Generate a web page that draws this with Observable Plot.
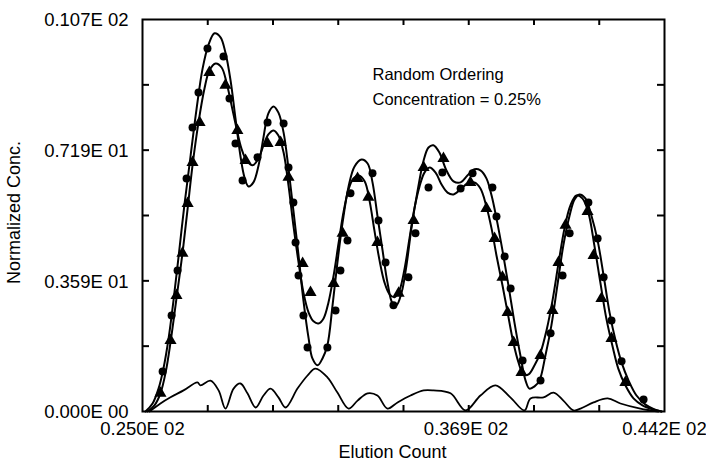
<!DOCTYPE html>
<html>
<head>
<meta charset="utf-8">
<script src="https://cdn.jsdelivr.net/npm/d3@7"></script>
<script src="https://cdn.jsdelivr.net/npm/@observablehq/plot@0.6"></script>
<style>
  html, body { margin: 0; padding: 0; background: #fff; }
  #chart svg { display: block; }
</style>
</head>
<body>
<div id="chart"></div>
<script>
// ---- data (Elution Count, Normalized Conc.) ----
const curveA = [
  [25.11,0],[25.37,0.22],[25.59,0.63],[25.77,1.18],[25.96,2.01],[26.14,3.05],[26.32,4.21],[26.54,5.67],
  [26.77,7.04],[26.99,8.33],[27.21,9.43],[27.43,10.09],[27.65,10.40],[27.87,10.29],[28.05,9.87],[28.24,9.10],
  [28.42,8.06],[28.60,7.04],[28.75,6.44],[28.90,6.19],[29.08,6.30],[29.27,6.77],[29.45,7.54],[29.63,8.20],
  [29.82,8.39],[30.00,8.22],[30.19,7.67],[30.37,6.68],[30.55,5.53],[30.74,4.29],[30.92,3.05],[31.11,2.01],
  [31.25,1.46],[31.44,1.27],[31.62,1.46],[31.80,1.82],[31.99,2.92],[32.17,4.10],[32.36,5.20],[32.58,6.19],
  [32.80,6.74],[33.06,6.93],[33.28,6.82],[33.46,6.30],[33.64,5.39],[33.83,4.43],[34.01,3.55],[34.20,2.97],
  [34.34,2.92],[34.53,3.27],[34.71,4.02],[34.89,5.03],[35.12,6.08],[35.34,6.90],[35.52,7.26],[35.70,7.32],
  [35.92,7.12],[36.18,6.63],[36.44,6.33],[36.70,6.30],[36.95,6.49],[37.21,6.66],[37.43,6.63],[37.65,6.41],
  [37.84,5.94],[38.02,5.31],[38.24,4.43],[38.46,3.47],[38.68,2.45],[38.90,1.54],[39.09,0.85],[39.23,0.63],
  [39.42,0.69],[39.60,0.85],[39.82,1.54],[40.04,2.37],[40.26,3.47],[40.48,4.57],[40.71,5.39],[40.89,5.83],
  [41.07,5.97],[41.29,5.86],[41.51,5.39],[41.74,4.70],[41.96,3.74],[42.18,2.72],[42.40,1.95],[42.62,1.35],
  [42.88,0.85],[43.17,0.44],[43.50,0.19],[43.83,0.06],[44.09,0]
];
const curveB = [
  [25.18,0],[25.44,0.17],[25.66,0.50],[25.85,1.07],[26.03,1.90],[26.25,3.11],[26.47,4.35],[26.66,5.58],
  [26.84,6.77],[27.06,7.95],[27.28,8.88],[27.46,9.38],[27.69,9.57],[27.91,9.46],[28.09,9.05],[28.27,8.44],
  [28.46,7.78],[28.64,7.23],[28.83,6.90],[29.05,6.77],[29.27,6.96],[29.45,7.32],[29.63,7.62],[29.82,7.73],
  [30.00,7.59],[30.19,7.12],[30.37,6.22],[30.55,5.12],[30.74,4.10],[30.92,3.27],[31.11,2.72],[31.29,2.48],
  [31.47,2.42],[31.66,2.56],[31.84,3.00],[32.03,3.74],[32.21,4.62],[32.39,5.47],[32.58,6.11],[32.76,6.41],
  [32.95,6.49],[33.17,6.33],[33.35,5.80],[33.53,4.98],[33.72,4.15],[33.90,3.55],[34.09,3.22],[34.27,3.14],
  [34.45,3.33],[34.64,3.93],[34.82,4.76],[35.00,5.58],[35.19,6.19],[35.37,6.57],[35.56,6.71],[35.78,6.57],
  [36.00,6.24],[36.22,6.02],[36.44,5.97],[36.70,6.11],[36.95,6.27],[37.21,6.30],[37.43,6.13],[37.65,5.64],
  [37.84,5.03],[38.02,4.29],[38.24,3.47],[38.43,2.72],[38.64,1.90],[38.83,1.35],[39.01,1.02],[39.20,1.02],
  [39.42,1.27],[39.64,1.62],[39.86,2.23],[40.08,3.05],[40.30,4.07],[40.52,5.03],[40.74,5.67],[40.96,5.94],
  [41.18,5.86],[41.40,5.47],[41.62,4.57],[41.84,3.55],[42.06,2.56],[42.28,1.82],[42.50,1.18],[42.76,0.72],
  [43.06,0.36],[43.39,0.17],[43.76,0.06],[44.09,0]
];
const residual = [
  [25.26,0],[25.66,0.22],[26.03,0.39],[26.51,0.58],[27.02,0.80],[27.13,0.72],[27.50,0.85],[27.80,0.58],
  [28.05,0.08],[28.35,0.63],[28.60,0.77],[28.86,0.50],[29.16,0.11],[29.45,0.44],[29.71,0.63],[30.00,0.39],
  [30.26,0.11],[30.70,0.63],[31.07,0.99],[31.36,1.18],[31.80,0.94],[32.17,0.52],[32.58,0.08],[32.91,0.30],
  [33.28,0.50],[33.64,0.44],[34.01,0.08],[34.38,0.25],[34.86,0.44],[35.34,0.58],[35.70,0.58],[36.33,0.50],
  [36.88,0.03],[37.43,0.44],[37.98,0.72],[38.53,0.39],[39.05,0.03],[39.27,0.36],[39.75,0.39],[40.12,0.52],
  [40.48,0.30],[40.85,0.03],[41.11,0.08],[41.59,0.25],[42.11,0.36],[42.58,0.22],[43.31,0.08],[43.98,0]
];
const circlePoints = [
  [25.74,1.10],[26.07,2.64],[26.29,3.88],[26.62,6.41],[26.84,7.81],[27.06,8.77],[27.39,9.98],[27.98,9.76],
  [28.20,8.61],[28.42,7.37],[28.68,6.35],[29.23,6.99],[29.60,7.95],[30.19,7.92],[30.37,6.71],[30.55,5.75],
  [30.63,4.65],[30.74,3.74],[30.92,2.64],[31.07,1.76],[31.80,1.76],[32.10,2.78],[32.28,3.88],[32.54,4.70],
  [32.65,6.00],[33.46,6.55],[33.68,5.25],[33.94,4.10],[34.23,2.92],[34.78,3.69],[35.04,4.90],[35.52,6.16],
  [36.03,6.57],[36.70,6.13],[37.14,6.55],[37.87,6.16],[38.02,5.36],[38.32,4.26],[38.54,3.38],[38.98,1.40],
  [39.64,0.85],[40.01,2.15],[40.45,3.74],[40.71,4.90],[41.40,5.75],[41.74,4.76],[41.96,3.69],[42.25,2.50],
  [42.62,1.38],[43.43,0.33]
];
const trianglePoints = [
  [25.66,0.50],[26.03,1.95],[26.25,3.19],[26.47,4.35],[26.66,5.72],[26.84,6.85],[27.10,7.95],[27.46,9.32],
  [28.05,8.97],[28.49,7.73],[28.79,6.90],[29.60,7.37],[30.08,7.40],[30.37,6.44],[30.89,4.07],[31.18,3.27],
  [32.03,3.52],[32.36,4.90],[32.91,6.41],[33.31,5.89],[33.64,4.65],[34.42,3.25],[34.97,5.25],[35.34,6.71],
  [36.07,6.96],[37.06,6.30],[37.65,5.58],[37.95,4.76],[38.24,3.69],[38.43,2.72],[38.65,1.90],[38.94,1.07],
  [39.64,1.54],[40.08,2.78],[40.30,4.10],[40.56,5.12],[41.37,5.50],[41.59,4.29],[41.88,3.11],[42.25,2.01],
  [42.76,0.80]
];
// ---- axes ----
const xDomain = [25, 44.2];
const yDomain = [0, 10.78];
const xTickValues = [27.4, 29.8, 32.2, 34.6, 37.0, 39.4, 41.8];
const yTickValues = [1.797, 3.593, 5.39, 7.187, 8.983];
const xLabelValues = [25, 36.9, 44.2];
const xLabelText = ["0.250E 02", "0.369E 02", "0.442E 02"];
const yLabelValues = [0, 3.593, 7.187, 10.78];
const yLabelText = ["0.000E 00", "0.359E 01", "0.719E 01", "0.107E 02"];
const xTitle = "Elution Count";
const yTitle = "Normalized Conc.";
const annotation = ["Random Ordering", "Concentration = 0.25%"];

const W = 706, H = 466;
const mL = 142, mR = 42, mT = 19, mB = 55;
const fw = W - mL - mR, fh = H - mT - mB;
const font = "'Liberation Sans', Arial, Helvetica, sans-serif";

const chart = Plot.plot({
  width: W, height: H,
  marginLeft: mL, marginRight: mR, marginTop: mT, marginBottom: mB,
  style: {fontFamily: font, background: "#fff", color: "#000", overflow: "visible"},
  x: {domain: xDomain, axis: null},
  y: {domain: yDomain, axis: null},
  marks: [
    // inward ticks
    Plot.tickX(xTickValues, {x: d => d, insetTop: fh - 6, strokeWidth: 2}),
    Plot.tickX(xTickValues, {x: d => d, insetBottom: fh - 6, strokeWidth: 2}),
    Plot.tickY(yTickValues, {y: d => d, insetRight: fw - 7, strokeWidth: 2}),
    Plot.tickY(yTickValues, {y: d => d, insetLeft: fw - 7, strokeWidth: 2}),
    Plot.frame({stroke: "#000", strokeWidth: 2}),
    // curves
    Plot.line(residual, {x: d => d[0], y: d => d[1], curve: "catmull-rom", strokeWidth: 1.8}),
    Plot.line(curveA, {x: d => d[0], y: d => d[1], curve: "catmull-rom", strokeWidth: 2}),
    Plot.line(curveB, {x: d => d[0], y: d => d[1], curve: "catmull-rom", strokeWidth: 2}),
    Plot.dot(circlePoints, {x: d => d[0], y: d => d[1], r: 4, fill: "#000", stroke: "none"}),
    Plot.dot(trianglePoints, {x: d => d[0], y: d => d[1], symbol: "triangle", r: 4.5, fill: "#000", stroke: "none"}),
    // tick labels
    Plot.text(xLabelValues, {x: d => d, text: (d, i) => xLabelText[i], frameAnchor: "bottom", dy: 23,
      fontSize: 18.5, textAnchor: "middle", fill: "#000", style: "letter-spacing:0.6px"}),
    Plot.text(yLabelValues, {y: d => d, text: (d, i) => yLabelText[i], frameAnchor: "left", dx: -14, dy: 1,
      fontSize: 18.5, textAnchor: "end", fill: "#000"}),
    // axis titles
    Plot.text([xTitle], {frameAnchor: "bottom", dx: 392 - (mL + fw / 2), dy: 46, text: d => d,
      fontSize: 18, textAnchor: "middle", fill: "#000", style: "letter-spacing:1px"}),
    Plot.text([yTitle], {frameAnchor: "left", dx: 14 - mL, dy: 212 - (mT + fh / 2), rotate: -90, text: d => d,
      fontSize: 18, textAnchor: "middle", fill: "#000"}),
    // annotation
    Plot.text([annotation.join("\n")], {frameAnchor: "top-left", dx: 372 - mL, dy: 61 - mT, text: d => d,
      textAnchor: "start", lineAnchor: "top", lineHeight: 1.55, fontSize: 16.5, fill: "#000"})
  ]
});
document.getElementById("chart").appendChild(chart);
</script>
</body>
</html>
